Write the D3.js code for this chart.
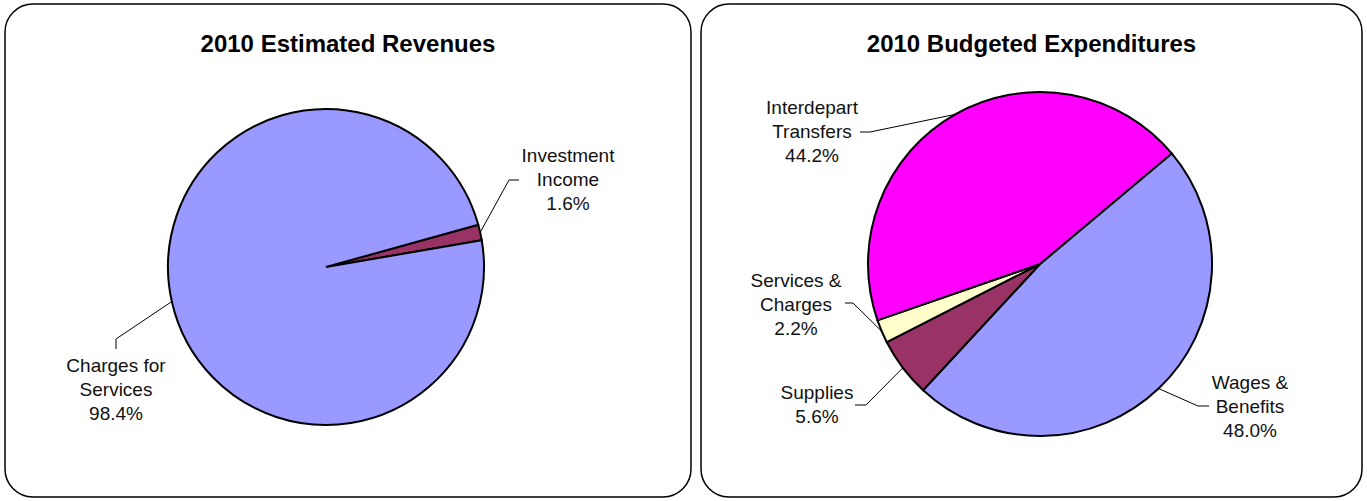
<!DOCTYPE html>
<html>
<head>
    <script src="https://d3js.org/d3.v7.min.js"></script>
    <style>
        body { margin: 0; background: #fff; }
        text { font-family: "Liberation Sans", Arial, sans-serif; fill: #000; }
        .title { font-size: 24px; font-weight: bold; }
        .lbl { font-size: 19px; fill: #111; }
        .slice { stroke: #000; stroke-width: 2px; }
        .leader { fill: none; stroke: #000; stroke-width: 1px; }
        .panel { fill: #fff; stroke: #000; stroke-width: 1.5px; }
    </style>
</head>
<body>
    <svg width="1367" height="501"></svg>

    <script>
        const svg = d3.select("svg");

        // Revenues
        const revCategories = [["Investment", "Income"], ["Charges for", "Services"]];
        const revValues = [1.6, 98.4];
        const revColors = ["#993366", "#9999FF"];

        // Expenditures
        const expCategories = [["Wages &", "Benefits"], ["Supplies"], ["Services &", "Charges"], ["Interdepart", "Transfers"]];
        const expValues = [48.0, 5.6, 2.2, 44.2];
        const expColors = ["#9999FF", "#993366", "#FFFFCC", "#FF00FF"];

        // chart layout: panel box, pie center/radius, start angle, label placement
        const charts = [
            {
                title: "2010 Estimated Revenues",
                box: [5, 4, 686, 493], cx: 326, cy: 267, r: 158, start: 74.5,
                cats: revCategories, vals: revValues, colors: revColors,
                labels: [
                    { x: 568, y: 155, elbow: [509, 180], end: [519, 180] },
                    { x: 116, y: 365, elbow: [116, 339], end: [116, 349] }
                ]
            },
            {
                title: "2010 Budgeted Expenditures",
                box: [701, 4, 661, 493], cx: 1040, cy: 264, r: 172, start: 50,
                cats: expCategories, vals: expValues, colors: expColors,
                labels: [
                    { x: 1250, y: 382, elbow: [1198, 406], end: [1209, 406] },
                    { x: 817, y: 392, elbow: [866, 405], end: [855, 405] },
                    { x: 796, y: 280, elbow: [853, 303], end: [845, 303] },
                    { x: 812, y: 107, elbow: [870, 132], end: [860, 132] }
                ]
            }
        ];

        charts.forEach(c => {
            const [bx, by, bw, bh] = c.box;
            svg.append("rect").attr("class", "panel")
                .attr("x", bx).attr("y", by).attr("width", bw).attr("height", bh)
                .attr("rx", 28).attr("ry", 28);

            svg.append("text").attr("class", "title")
                .attr("x", bx + bw / 2).attr("y", 52)
                .attr("text-anchor", "middle")
                .text(c.title);

            const a0 = c.start * Math.PI / 180;
            const pie = d3.pie().sort(null).startAngle(a0).endAngle(a0 + 2 * Math.PI);
            const arc = d3.arc().innerRadius(0).outerRadius(c.r);
            const arcs = pie(c.vals);

            const g = svg.append("g").attr("transform", `translate(${c.cx},${c.cy})`);
            g.selectAll("path")
                .data(arcs)
                .enter().append("path")
                .attr("class", "slice")
                .attr("d", arc)
                .attr("fill", (d, i) => c.colors[i]);

            // leader lines + labels
            arcs.forEach((d, i) => {
                const L = c.labels[i];
                const mid = (d.startAngle + d.endAngle) / 2;
                const sx = c.cx + c.r * Math.sin(mid);
                const sy = c.cy - c.r * Math.cos(mid);
                svg.append("polyline").attr("class", "leader")
                    .attr("points", [[sx, sy], L.elbow, L.end].map(p => p.join(",")).join(" "));

                const lines = c.cats[i].concat([d3.format(".1f")(c.vals[i]) + "%"]);
                const t = svg.append("text").attr("class", "lbl").attr("text-anchor", "middle");
                lines.forEach((s, k) => {
                    t.append("tspan").attr("x", L.x).attr("y", L.y + 7 + k * 24).text(s);
                });
            });
        });
    </script>
</body>
</html>
